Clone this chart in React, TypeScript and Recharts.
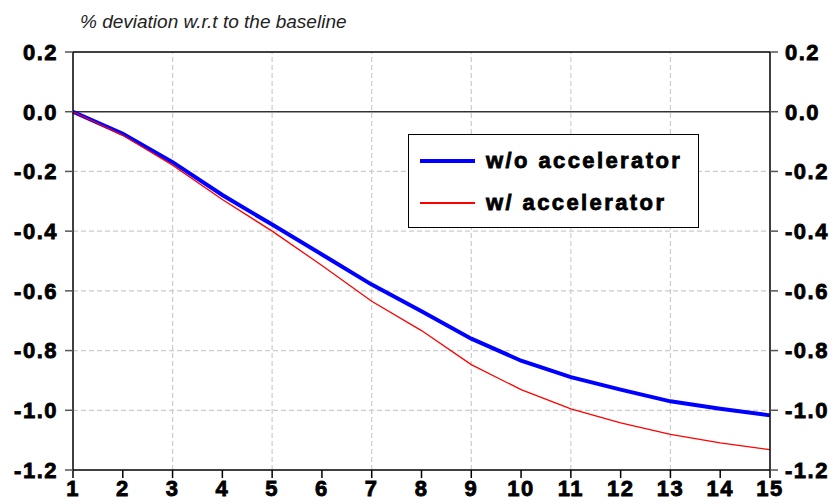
import React from 'react';
import { LineChart, Line, XAxis, YAxis, ReferenceLine } from 'recharts';

const periods = [1, 2, 3, 4, 5, 6, 7, 8, 9, 10, 11, 12, 13, 14, 15];
const withoutAccel = [0.0, -0.074, -0.169, -0.279, -0.378, -0.478, -0.579, -0.668, -0.76, -0.834, -0.889, -0.931, -0.97, -0.995, -1.017];
const withAccel = [0.0, -0.079, -0.179, -0.294, -0.4, -0.515, -0.635, -0.733, -0.847, -0.931, -0.995, -1.042, -1.081, -1.109, -1.132];
const yTicks = [0.2, 0.0, -0.2, -0.4, -0.6, -0.8, -1.0, -1.2];
const xTicks = periods;
const vGrid = [3, 5, 7, 9, 11, 13];
const hGrid = [-0.2, -0.4, -0.6, -0.8, -1.0];
const seriesNames = ['w/o accelerator', 'w/ accelerator'];
const title = '% deviation w.r.t to the baseline';

const data = periods.map((p, i) => ({ t: p, a: withoutAccel[i], b: withAccel[i] }));

const tickStyle = {
  fontSize: 22,
  fontWeight: 900,
  fontFamily: '"Liberation Sans", Arial, sans-serif',
  fill: '#000',
  stroke: '#000',
  strokeWidth: 0.8,
  letterSpacing: 1.5,
};

const fmt = (v: number) => v.toFixed(1);

const LegendBox = () => (
  <div
    style={{
      position: 'absolute',
      left: 408,
      top: 134,
      border: '1.5px solid #000',
      background: '#fff',
      width: 291,
      height: 94,
      boxSizing: 'border-box',
      fontFamily: '"Liberation Sans", Arial, sans-serif',
      fontWeight: 900,
      fontSize: 22,
      letterSpacing: 2.4,
      WebkitTextStroke: '0.8px #000',
      color: '#000',
    }}
  >
    {[
      { name: seriesNames[0], color: '#0000ff', w: 4 },
      { name: seriesNames[1], color: '#ff0000', w: 1.5 },
    ].map((s, i) => (
      <div
        key={s.name}
        style={{ position: 'absolute', left: 11, top: i === 0 ? 13 : 55, display: 'flex', alignItems: 'center', height: 26 }}
      >
        <div style={{ width: 55, height: s.w, background: s.color, marginRight: 11 }} />
        <span style={{ lineHeight: '26px' }}>{s.name}</span>
      </div>
    ))}
  </div>
);

export default function App() {
  return (
    <div style={{ position: 'absolute', left: 0, top: 0, width: 834, height: 503, background: '#fff' }}>
      <LineChart width={834} height={503} data={data} margin={{ top: 52, right: 0, left: 0, bottom: 0 }}>
        {hGrid.map((v) => (
          <ReferenceLine key={'h' + v} yAxisId="left" y={v} stroke="#cccccc" strokeDasharray="5 3" strokeWidth={1.2} />
        ))}
        {vGrid.map((v) => (
          <ReferenceLine key={'v' + v} yAxisId="left" x={v} stroke="#cccccc" strokeDasharray="5 3" strokeWidth={1.2} />
        ))}
        <XAxis
          dataKey="t"
          type="number"
          domain={[1, 15]}
          ticks={xTicks}
          interval={0}
          height={33}
          tickSize={8}
          tickMargin={2}
          axisLine={{ stroke: '#000', strokeWidth: 1.5 }}
          tickLine={{ stroke: '#000', strokeWidth: 1.5 }}
          tick={tickStyle}
        />
        <YAxis
          yAxisId="left"
          type="number"
          domain={[-1.2, 0.2]}
          ticks={yTicks}
          interval={0}
          width={73}
          tickSize={8}
          tickMargin={7}
          tickFormatter={fmt}
          axisLine={{ stroke: '#000', strokeWidth: 1.5 }}
          tickLine={{ stroke: '#555', strokeWidth: 1.5 }}
          tick={tickStyle}
        />
        <YAxis
          yAxisId="right"
          orientation="right"
          type="number"
          domain={[-1.2, 0.2]}
          ticks={yTicks}
          interval={0}
          width={64}
          tickSize={8}
          tickMargin={7}
          tickFormatter={fmt}
          axisLine={{ stroke: '#000', strokeWidth: 1.5 }}
          tickLine={{ stroke: '#555', strokeWidth: 1.5 }}
          tick={{ ...tickStyle, textAnchor: 'start' }}
        />
        <ReferenceLine yAxisId="left" y={0.2} stroke="#000" strokeWidth={1.5} />
        <ReferenceLine yAxisId="left" y={0} stroke="#333" strokeWidth={1.5} />
        <Line
          yAxisId="left"
          type="linear"
          dataKey="a"
          name={seriesNames[0]}
          stroke="#0000ff"
          strokeWidth={4}
          dot={false}
          isAnimationActive={false}
        />
        <Line
          yAxisId="left"
          type="linear"
          dataKey="b"
          name={seriesNames[1]}
          stroke="#ff0000"
          strokeWidth={1.3}
          dot={false}
          isAnimationActive={false}
        />
        <Line yAxisId="right" dataKey="a" stroke="none" dot={false} legendType="none" isAnimationActive={false} />
      </LineChart>
      <div
        style={{
          position: 'absolute',
          left: 80,
          top: 11,
          fontFamily: '"Liberation Sans", Arial, sans-serif',
          fontStyle: 'italic',
          fontSize: 19,
          color: '#222',
          whiteSpace: 'nowrap',
        }}
      >
        {title}
      </div>
      <LegendBox />
    </div>
  );
}
